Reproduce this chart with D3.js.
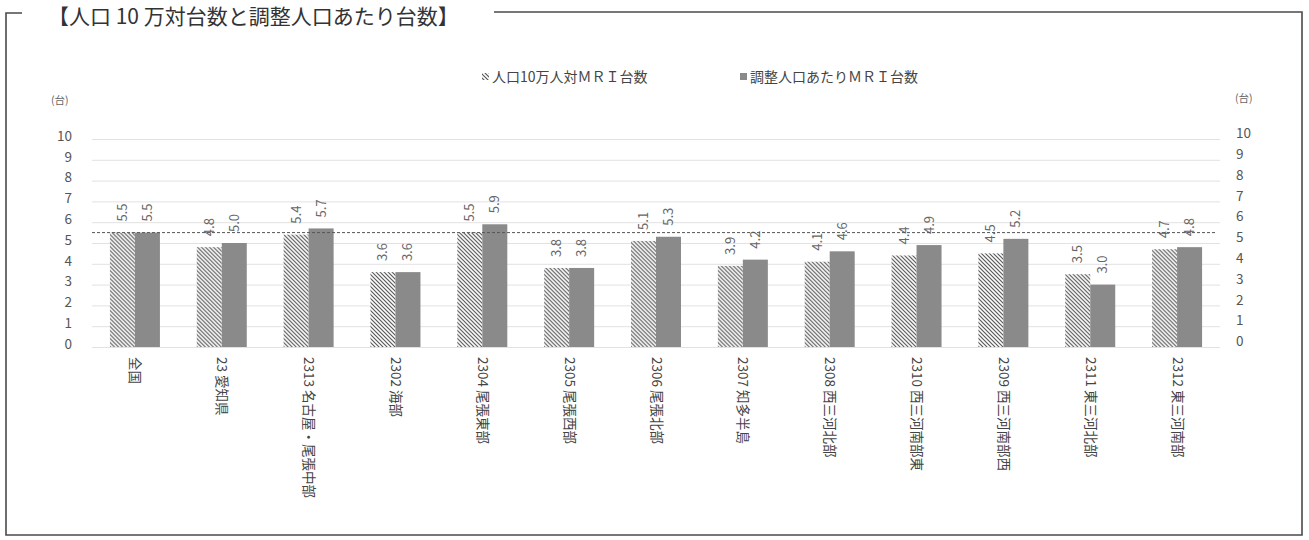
<!DOCTYPE html>
<html><head><meta charset="utf-8">
<script src="https://cdn.jsdelivr.net/npm/d3@7"></script>
<style>body{margin:0;background:#fff}svg{display:block}</style>
</head><body><svg id="c" width="1309" height="540"></svg>
<script>
const categories = ["全国","23 愛知県","2313 名古屋・尾張中部","2302 海部","2304 尾張東部","2305 尾張西部","2306 尾張北部","2307 知多半島","2308 西三河北部","2310 西三河南部東","2309 西三河南部西","2311 東三河北部","2312 東三河南部"];
const seriesNames = ["人口10万人対ＭＲＩ台数","調整人口あたりＭＲＩ台数"];
const per100k = [5.5,4.8,5.4,3.6,5.5,3.8,5.1,3.9,4.1,4.4,4.5,3.5,4.7];
const adjusted = [5.5,5.0,5.7,3.6,5.9,3.8,5.3,4.2,4.6,4.9,5.2,3.0,4.8];
const yTicks = [0,1,2,3,4,5,6,7,8,9,10];
const titleText = "【人口 10 万対台数と調整人口あたり台数】";
const unitLabel = "(台)";

const FONT = "'Noto Sans CJK JP', 'Noto Sans', sans-serif";
const svg = d3.select("#c");
const defs = svg.append("defs");
const pat = defs.append("pattern").attr("id","hatch").attr("patternUnits","userSpaceOnUse")
  .attr("width",4).attr("height",4);
pat.append("rect").attr("width",4).attr("height",4).attr("fill","#fff");
pat.append("path").attr("d","M-1,-1 L5,5 M-1,3 L1,5 M3,-1 L5,1").attr("stroke","#555").attr("stroke-width",1.15);

const series = [per100k, adjusted];
const fills = ["url(#hatch)", "#8a8a8a"];

// frame
const frame = svg.append("g").attr("stroke","#4a4a4a").attr("stroke-width",1.6).attr("fill","none");
frame.append("path").attr("d","M22,13 H6 V535 H1302 V12 H494");

// title
svg.append("text").attr("x",48).attr("y",24).attr("font-family",FONT).attr("font-size",21)
  .attr("fill","#333").text(titleText);

const x = d3.scaleBand().domain(categories).range([91.5,1220.5]).padding(0);
const step = x.bandwidth();
const x1 = d3.scaleBand().domain([0,1]).range([step/2-25, step/2+25]).padding(0);
const y = d3.scaleLinear().domain([0,10]).range([347,139]);

// gridlines
svg.append("g").attr("transform","translate(1220,0)")
  .call(d3.axisLeft(y).tickValues(yTicks).tickSize(1128).tickFormat(""))
  .call(g=>g.select(".domain").remove())
  .call(g=>g.selectAll("line").attr("stroke","#e2e2e2").attr("stroke-width",1));

// left axis
svg.append("g").attr("transform","translate(72,0)")
  .call(d3.axisLeft(y).tickValues(yTicks).tickSize(0).tickPadding(0))
  .call(g=>g.select(".domain").remove())
  .call(g=>g.selectAll("text").attr("font-family",FONT).attr("font-size",13.5).attr("fill","#555").attr("dy","0.1em"));
// right axis
svg.append("g").attr("transform","translate(1236,0)")
  .call(d3.axisRight(y).tickValues(yTicks).tickSize(0).tickPadding(0))
  .call(g=>g.select(".domain").remove())
  .call(g=>g.selectAll("text").attr("font-family",FONT).attr("font-size",13.5).attr("fill","#555").attr("dy","-0.1em"));

svg.append("text").attr("x",51).attr("y",104).attr("font-family",FONT).attr("font-size",10.5).attr("fill","#666").text(unitLabel);
svg.append("text").attr("x",1235).attr("y",102).attr("font-family",FONT).attr("font-size",10.5).attr("fill","#666").text(unitLabel);

// bars
const groups = svg.append("g").selectAll("g").data(categories).join("g")
  .attr("transform",d=>`translate(${x(d)},0)`);
groups.selectAll("rect").data((d,i)=>series.map((s,k)=>({k,v:s[i]}))).join("rect")
  .attr("x",d=>x1(d.k)).attr("width",x1.bandwidth())
  .attr("y",d=>y(d.v)).attr("height",d=>y(0)-y(d.v))
  .attr("fill",d=>fills[d.k]);

// data labels
groups.selectAll("text.v").data((d,i)=>series.map((s,k)=>({k,v:s[i]}))).join("text")
  .attr("class","v")
  .attr("transform",d=>`translate(${x1(d.k)+x1.bandwidth()/2+4.5},${y(d.v)-11}) rotate(-90)`)
  .attr("font-family",FONT).attr("font-size",13).attr("fill","#666")
  .text(d=>d.v.toFixed(1));

// national average dashed line
svg.append("line").attr("x1",92).attr("x2",1216).attr("y1",y(per100k[0])).attr("y2",y(per100k[0]))
  .attr("stroke","#555").attr("stroke-width",1).attr("stroke-dasharray","3,2");

// category axis
svg.append("g").attr("transform","translate(0,347)")
  .call(d3.axisBottom(x).tickSize(0).tickPadding(0))
  .call(g=>g.select(".domain").remove())
  .call(g=>g.selectAll("text")
    .attr("font-family",FONT).attr("font-size",13.5).attr("fill","#444")
    .attr("text-anchor","start").attr("dy",null).attr("y",0)
    .attr("transform","translate(-4.5,10) rotate(90)"));

// legend
const legend = svg.append("g").attr("font-family",FONT).attr("font-size",14).attr("fill","#444");
const legX = [482, 740];
seriesNames.forEach((n,k)=>{
  legend.append("rect").attr("x",legX[k]).attr("y",73).attr("width",7).attr("height",7).attr("fill",fills[k]);
  legend.append("text").attr("x",legX[k]+10).attr("y",82).text(n);
});
</script></body></html>
